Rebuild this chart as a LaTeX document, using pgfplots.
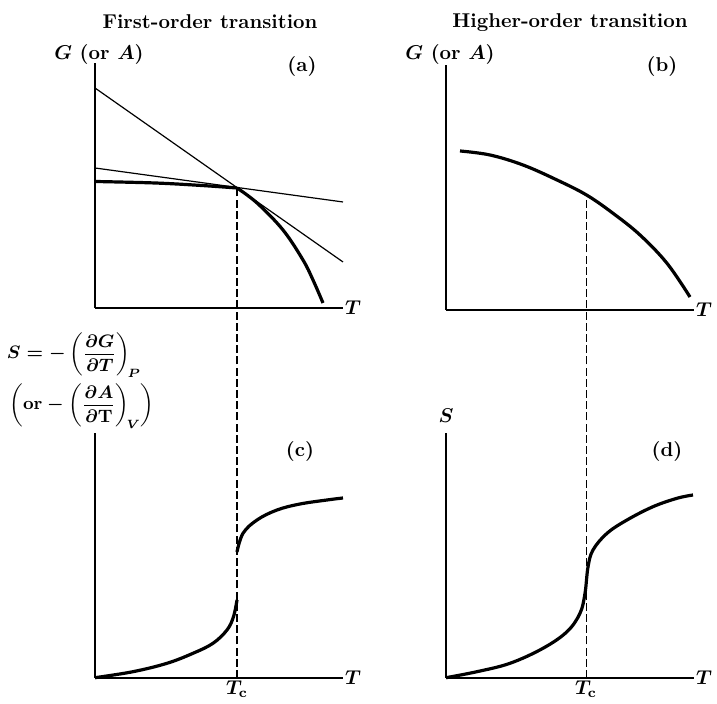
\documentclass[border=0pt]{standalone}
\usepackage{pgfplots}
\pgfplotsset{compat=1.18}
\usepackage{amsmath}

\begin{document}
\begin{tikzpicture}[x=0.5pt,y=0.5pt,
  every node/.append style={font=\fontsize{10}{12}\selectfont\bfseries\boldmath}]
\pgfplotsset{
  sketch/.style={
    x=0.5pt, y=0.5pt,
    xmin=0, xmax=248, ymin=0, ymax=245,
    axis lines=left, axis line style={-, line width=0.8pt},
    ticks=none, clip=false, anchor=south west,
  },
  thinline/.style={line width=0.6pt, black, no marks},
  thickcurve/.style={line width=1.6pt, black, no marks},
  tcline/.style={line width=0.7pt, black, no marks, dash pattern=on 4pt off 1.6pt},
}
\path[use as bounding box] (0,0) rectangle (717,704);

% (a) first-order: G with its two tangent branches
\begin{axis}[sketch, at={(47.5pt,198pt)}]
  \addplot[thinline] coordinates {(0,220) (248,46)};
  \addplot[thinline] coordinates {(0,140) (248,106)};
  \addplot[thickcurve, smooth, tension=0.6] coordinates {(0,126.5) (60,125) (105,122.6) (142,120)};
  \addplot[thickcurve, smooth, tension=0.6] coordinates {(142,120) (162,105) (188,78) (208,48) (218,28) (228,5)};
\end{axis}

% (b) higher-order: smooth G
\begin{axis}[sketch, at={(223pt,197pt)}]
  \addplot[thickcurve, smooth, tension=0.6] coordinates {(14,159) (44,155) (77,145) (111,130) (140.5,115) (167,96.7) (194,75) (221,46.7) (244,13)};
\end{axis}

% (c) first-order: entropy jumps at Tc
\begin{axis}[sketch, at={(47.5pt,13pt)}]
  \addplot[tcline] coordinates {(142,0) (142,490)};
  \addplot[thickcurve, smooth, tension=0.6] coordinates {(0,0.3) (38,6.3) (72,14.7) (98,24.7) (118,34.7) (132,48) (138.5,61.3) (142,78)};
  \addplot[thickcurve, smooth, tension=0.6] coordinates {(142,126) (148,144.7) (162,158) (182,168) (205,174) (232,178) (248,180)};
\end{axis}

% (d) higher-order: continuous entropy
\begin{axis}[sketch, at={(223pt,13pt)}]
  \addplot[tcline] coordinates {(140.5,0) (140.5,483)};
  \addplot[thickcurve, smooth, tension=0.6] coordinates {(0,0.3) (31,6.3) (64,14.7) (97,29.7) (121,46.3) (134,64.7) (139,84.7) (142,111) (147,128) (161,144.7) (181,158) (207,171.3) (231,179.7) (247,183)};
\end{axis}

% titles and labels
\node[anchor=base] at (210,675) {First-order transition};
\node[anchor=base] at (570,676) {Higher-order transition};
\node[anchor=base] at (99,644) {$G$ (or $A$)};
\node[anchor=base] at (450,644) {$G$ (or $A$)};
\node[anchor=base] at (302,632) {(a)};
\node[anchor=base] at (662,632) {(b)};
\node at (300,252) {(c)};
\node at (667,252) {(d)};
\node at (353,396) {$T$};
\node at (704,394) {$T$};
\node at (353,26) {$T$};
\node at (704,26) {$T$};
\node[anchor=base, inner sep=0pt] at (237,9) {$T_{\mathrm{c}}$};
\node[anchor=base, inner sep=0pt] at (586,9) {$T_{\mathrm{c}}$};
\node at (446,288) {$S$};
\node[inner sep=0pt, font=\fontsize{9}{11}\selectfont\bfseries\boldmath] at (74,349)
  {$S=-\left(\dfrac{\partial G}{\partial T}\right)_{\!P}$};
\node[inner sep=0pt, font=\fontsize{9}{11}\selectfont\bfseries\boldmath] at (82,298)
  {$\left(\text{or}-\left(\dfrac{\partial A}{\partial \mathrm{T}}\right)_{\!V}\right)$};
\end{tikzpicture}
\end{document}
